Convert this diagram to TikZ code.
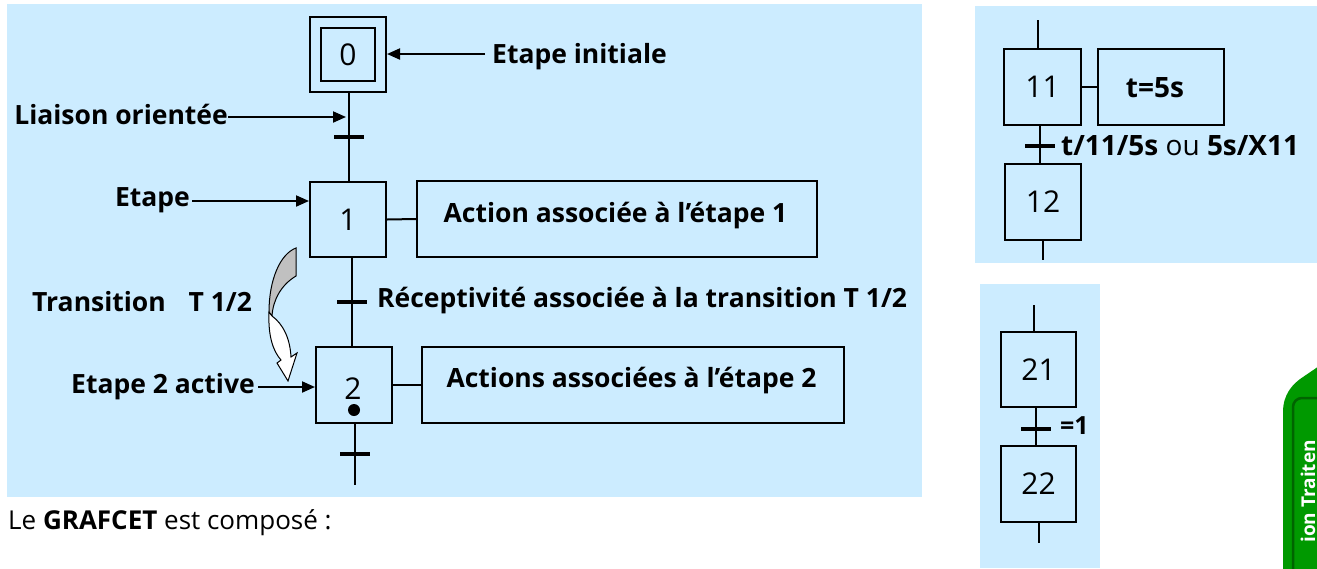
\documentclass[tikz,border=0pt]{standalone}
\usepackage{fontspec}
\setmainfont{Open Sans}
\usetikzlibrary{arrows.meta}
\definecolor{panelblue}{RGB}{204,236,255}
\definecolor{tabgreen}{RGB}{0,153,0}
\definecolor{tabdark}{RGB}{0,100,0}
\definecolor{arrowgray}{RGB}{192,192,192}
\tikzset{
  stepbox/.style={draw, line width=2pt, minimum width=76pt, minimum height=76pt, inner sep=0pt, font=\fontsize{30}{32}\selectfont},
  actbox/.style={draw, line width=2pt, minimum height=76pt, inner sep=0pt},
  trans/.style={rectangle, fill=black, minimum width=30pt, minimum height=4pt, inner sep=0pt},
  lbl/.style={anchor=base west, inner sep=0pt, font=\fontsize{26.5}{30}\selectfont\bfseries},
  lble/.style={anchor=base east, inner sep=0pt, font=\fontsize{26.5}{30}\selectfont\bfseries},
  lblc/.style={anchor=base, inner sep=0pt, font=\fontsize{26.5}{30}\selectfont\bfseries},
  link/.style={line width=2pt},
  arr/.style={line width=2pt, -{Triangle[length=13pt,width=11pt]}},
  panel/.style={fill=panelblue, draw=none},
}
\begin{document}
\begin{tikzpicture}[x=1pt, y=-1pt]
\useasboundingbox (0,0) rectangle (1317,568);
% panels
\fill[panel] (7,4) rectangle (922,497);
\fill[panel] (975,6) rectangle (1317,263);
\fill[panel] (980,284) rectangle (1100,568);

% ---------- main grafcet ----------
\node[stepbox, minimum height=75pt] (s0) at (348,54.5) {};
\node[draw, line width=2pt, minimum width=54pt, minimum height=53pt, inner sep=0pt, font=\fontsize{30}{32}\selectfont] (s0i) at (348,54.5) {0};
\node[stepbox, minimum height=75pt] (s1) at (348,219.5) {1};
\node[stepbox] (s2) at (354,385) {};
\node[anchor=base, inner sep=0pt, font=\fontsize{30}{32}\selectfont] (n2) at (353,399) {2};
\node[circle, fill=black, minimum size=12pt, inner sep=0pt] (dot2) at (354,410) {};

\node[actbox, minimum width=400pt] (a1) at (617,219) {};
\node[lblc] (a1t) at (615.5,222) {Action associée à l’étape 1};
\node[actbox, minimum width=422pt] (a2) at (633,385) {};
\node[lblc] (a2t) at (631.5,387) {Actions associées à l’étape 2};

\node[trans] (t01) at (349,137) {};
\node[trans] (t12) at (352,302) {};
\node[trans] (t2) at (355,454) {};
\coordinate (out2) at (355,485);

\draw[link] (t01 |- s0.south) -- (t01) -- (t01 |- s1.north);
\draw[link] (t12 |- s1.south) -- (t12) -- (t12 |- s2.north);
\draw[link] (t2 |- s2.south) -- (t2) -- (out2);
\draw[link] (s1.east) -- (a1.west);
\draw[link] (s2.east) -- (a2.west);

% labels and pointers
\node[lbl] (ei) at (492,63) {Etape initiale};
\coordinate (eiA) at (485,54);
\draw[arr] (eiA) -- (s0.east |- eiA);

\node[lble] (lo) at (228,124) {Liaison orientée};
\coordinate (loB) at (346,117);
\draw[arr] (lo.east |- loB) -- (loB);

\node[lble] (et) at (190,206) {Etape};
\coordinate (etA) at (192,201);
\draw[arr] (etA) -- (s1.west |- etA);

\node[lbl] (tr) at (32,311) {Transition\hspace{0.6em} T 1/2};
\node[lbl] (rc) at (377,307) {Réceptivité associée à la transition T 1/2};

\node[lble] (e2) at (255,393) {Etape 2 active};
\coordinate (e2A) at (258,387);
\draw[arr] (e2A) -- (s2.west |- e2A);

% curved block arrow
\filldraw[fill=arrowgray, draw=black, line width=1pt]
  (296,248) .. controls (280,254) and (269,280) .. (269,312)
  -- (272,316) .. controls (273,300) and (281,285) .. (296,276) -- cycle;
\filldraw[fill=white, draw=black, line width=1pt]
  (269,312) .. controls (268,336) and (273,351) .. (281,360)
  -- (277,363) -- (288,381) -- (297,353) -- (291,357)
  .. controls (290,338) and (283,324) .. (272,316) -- cycle;

% ---------- right top grafcet ----------
\coordinate (in11) at (1038,20);
\node[stepbox, minimum width=77pt] (s11) at (1042.5,87) {11};
\node[actbox, minimum width=126pt] (a11) at (1161,87) {};
\node[lblc, font=\fontsize{28}{30}\selectfont\bfseries] (a11t) at (1155,97) {t=5s};
\node[trans] (t1112) at (1040,146) {};
\node[stepbox] (s12) at (1043,201.5) {12};
\coordinate (out12) at (1043,260);
\draw[link] (in11) -- (in11 |- s11.north);
\draw[link] (s11.east) -- (a11.west);
\draw[link] (t1112 |- s11.south) -- (t1112) -- (t1112 |- s12.north);
\draw[link] (out12 |- s12.south) -- (out12);
\node[lbl, font=\fontsize{28}{30}\selectfont\bfseries] (rc2) at (1061,155) {t/11/5s {\mdseries ou} 5s/X11};

% ---------- right bottom grafcet ----------
\coordinate (in21) at (1034,305);
\node[stepbox, minimum width=75pt, minimum height=75pt] (s21) at (1038.5,369.5) {21};
\node[trans] (t2122) at (1036,429) {};
\node[stepbox, minimum width=75pt] (s22) at (1038.5,484) {22};
\coordinate (out22) at (1039,543);
\draw[link] (in21) -- (in21 |- s21.north);
\draw[link] (t2122 |- s21.south) -- (t2122) -- (t2122 |- s22.north);
\draw[link] (out22 |- s22.south) -- (out22);
\node[lbl, font=\fontsize{25}{30}\selectfont\bfseries] (eq1) at (1060,434) {=1};

% ---------- bottom text ----------
\node[anchor=base west, inner sep=0pt, font=\fontsize{26}{30}\selectfont] (txt) at (8,529) {Le \textbf{GRAFCET} est composé :};

% ---------- green tab ----------
\begin{scope}
\clip (1270,340) rectangle (1317,568);
\fill[tabgreen] (1283,575) -- (1283,412) .. controls (1283,395) and (1292,384) .. (1303,377) -- (1325,362) -- (1325,575) -- cycle;
\draw[tabdark, line width=2.5pt, rounded corners=9pt] (1293,580) -- (1293,398) -- (1335,398);
\node[rotate=90, anchor=base east, inner sep=0pt, text=white, font=\fontsize{19}{22}\selectfont\bfseries] (tab) at (1315,440) {ion Traiten};
\end{scope}
\end{tikzpicture}
\end{document}
